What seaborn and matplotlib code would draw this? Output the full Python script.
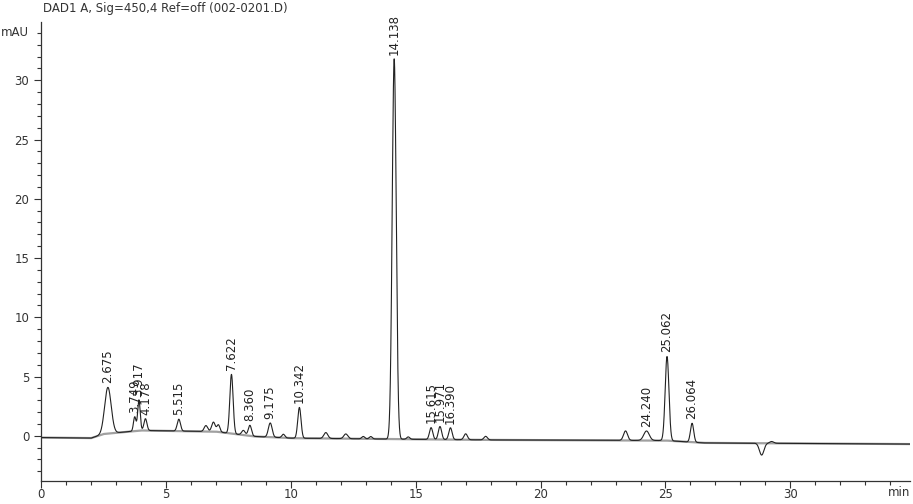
import numpy as np
import pandas as pd
import matplotlib
matplotlib.use("Agg")
import matplotlib.pyplot as plt
import matplotlib.transforms as mtransforms
from matplotlib.ticker import MultipleLocator
import seaborn as sns

# peak table (min, mAU above baseline, sigma in min)
peak_rt = [2.675, 3.749, 3.917, 4.178, 5.515, 6.6, 6.9, 7.1, 7.622, 8.1, 8.360, 9.175,
           9.7, 10.342, 11.4, 12.2, 12.9, 13.2, 14.138, 14.7, 15.615, 15.971, 16.390,
           17.0, 17.8, 23.4, 24.240, 25.062, 26.064, 28.85, 29.25]
peak_height = [3.9, 1.2, 2.6, 1.0, 1.0, 0.5, 0.8, 0.6, 5.0, 0.4, 0.9, 1.2,
               0.3, 2.6, 0.5, 0.4, 0.2, 0.2, 32.1, 0.2, 1.0, 1.1, 1.0,
               0.5, 0.3, 0.8, 0.8, 7.1, 1.6, -1.0, 0.15]
peak_width = [0.13, 0.05, 0.05, 0.06, 0.065, 0.07, 0.07, 0.06, 0.065, 0.07, 0.065, 0.075,
              0.06, 0.065, 0.08, 0.08, 0.06, 0.06, 0.08, 0.06, 0.065, 0.065, 0.065,
              0.07, 0.07, 0.08, 0.11, 0.075, 0.065, 0.09, 0.08]

# labelled peaks
label_rt = [2.675, 3.749, 3.917, 4.178, 5.515, 7.622, 8.360, 9.175, 10.342, 14.138,
            15.615, 15.971, 16.390, 24.240, 25.062, 26.064]
label_text = ["2.675", "3.749", "3.917", "4.178", "5.515", "7.622", "8.360", "9.175",
              "10.342", "14.138", "15.615", "15.971", "16.390", "24.240", "25.062", "26.064"]

# baseline drift knots
base_t = [0.0, 2.0, 2.5, 4.0, 7.0, 8.5, 10.0, 15.0, 18.0, 25.0, 26.5, 34.8]
base_y = [-0.15, -0.2, 0.15, 0.45, 0.35, -0.05, -0.2, -0.3, -0.35, -0.4, -0.6, -0.7]

t = np.linspace(0, 34.8, 7000)
baseline = np.interp(t, base_t, base_y)
signal = baseline.copy()
for rt, h, w in zip(peak_rt, peak_height, peak_width):
    signal += h * np.exp(-0.5 * ((t - rt) / w) ** 2)
df = pd.DataFrame({"time": t, "mAU": signal, "base": baseline})

sns.set_style("ticks")
fig = plt.figure(figsize=(9.13, 5.04), dpi=100)
ax = fig.add_axes([0.045, 0.046, 0.952, 0.91])

sns.lineplot(data=df, x="time", y="base", color="#a0a0a0", lw=1.6, ax=ax)
sns.lineplot(data=df, x="time", y="mAU", color="#222222", lw=0.8, ax=ax)

fs = 8.5
for rt, txt in zip(label_rt, label_text):
    i = np.argmin(np.abs(t - rt))
    ax.text(rt, signal[i] + 0.35, txt, rotation=90, ha="center", va="bottom",
            fontsize=fs, color="#222222", clip_on=False)

ax.set_xlim(0, 34.8)
ax.set_ylim(-3.8, 34.9)
ax.xaxis.set_minor_locator(MultipleLocator(1))
ax.yaxis.set_minor_locator(MultipleLocator(1))
ax.tick_params(which="major", length=5, width=0.8, labelsize=fs, colors="#333333")
ax.tick_params(which="minor", length=3, width=0.8, colors="#333333")
ax.tick_params(axis="x", which="major", pad=0.5)
ax.set_xticks(range(0, 31, 5))
ax.set_yticks(range(0, 31, 5))
ax.set_xlabel("")
ax.set_ylabel("")
for s in ["top", "right"]:
    ax.spines[s].set_visible(False)
for s in ["left", "bottom"]:
    ax.spines[s].set_linewidth(0.9)
    ax.spines[s].set_color("#333333")

trans = mtransforms.blended_transform_factory(ax.transData, ax.transAxes)
ax.text(34.8, -0.012, "min", transform=trans, ha="right", va="top", fontsize=fs, color="#333333")
ax.text(-0.5, 34.0, "mAU", ha="right", va="center", fontsize=fs, color="#333333", clip_on=False)
fig.text(0.047, 0.984, "DAD1 A, Sig=450,4 Ref=off (002-0201.D)", ha="left", va="center",
         fontsize=fs, color="#333333")

fig.savefig("out.png", dpi=100)
